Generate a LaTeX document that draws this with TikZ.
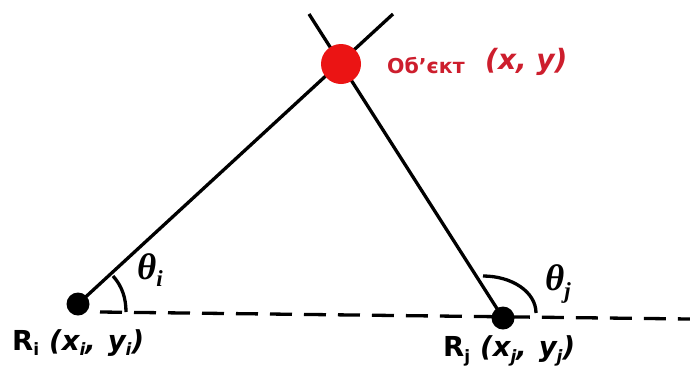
\documentclass[tikz,border=0pt]{standalone}
\usepackage{fontspec}
\setmainfont{DejaVu Sans}
\newfontfamily\thetafont{Liberation Serif}
\usetikzlibrary{backgrounds}
\definecolor{objred}{RGB}{235,20,20}
\definecolor{txtred}{RGB}{205,30,45}
\newcommand{\mysub}[1]{\raisebox{-0.35ex}{\fontsize{17}{17}\selectfont #1}}
\newcommand{\thsub}[1]{\raisebox{-0.45ex}{\fontsize{23}{23}\selectfont #1}}
\begin{document}
\begin{tikzpicture}[x=1pt,y=-1pt,
  dot/.style={circle,fill=black,inner sep=0pt,minimum size=23pt},
  objdot/.style={circle,fill=objred,inner sep=0pt,minimum size=40pt},
  ray/.style={line width=3.3pt},
  base/.style={line width=3.3pt,dash pattern=on 22pt off 12pt},
  lbl/.style={inner sep=0pt,font=\bfseries\fontsize{27.5}{27.5}\selectfont},
  ang/.style={inner sep=0pt,font=\thetafont\bfseries\itshape\fontsize{37}{37}\selectfont}]
\useasboundingbox (0,0) rectangle (690,376);
\node[dot] (Ri) at (78,304) {};
\node[dot] (Rj) at (503,318) {};
\node[objdot] (obj) at (341,64) {};
\coordinate (topA) at (393,14);
\coordinate (topB) at (309,14);
\coordinate (dashL) at (100,312);
\coordinate (dashR) at (690,319);
\coordinate (arcIa) at (113,276);
\coordinate (arcIb) at (126,312);
\coordinate (arcJa) at (483,276);
\coordinate (arcJb) at (536,313);
\begin{scope}[on background layer]
\draw[ray] (Ri.center) -- (topA);
\draw[ray] (Rj.center) -- (topB);
\draw[base] (dashL) -- (dashR);
\draw[ray] (arcIa) .. controls (122,286) and (126,298) .. (arcIb);
\draw[ray] (arcJa) .. controls (512,276) and (536,292) .. (arcJb);
\end{scope}
\node[lbl,text=txtred,font=\bfseries\fontsize{20.5}{20.5}\selectfont,anchor=west] (objname) at (387,66) {Об'єкт};
\node[lbl,text=txtred,font=\bfseries\itshape\fontsize{28}{28}\selectfont,anchor=west] (objxy) at (485,62) {(x, y)};
\node[ang] (ti) at (150,270) {θ\thsub{i}};
\node[ang] (tj) at (558,284) {θ\thsub{j}};
\node[lbl,anchor=west] (li) at (12,343) {R\mysub{i}\hspace{10pt}\textit{(x\mysub{i},\hspace{12pt}y\mysub{i})}};
\node[lbl,anchor=west] (lj) at (443,351) {R\mysub{j}\hspace{10pt}\textit{(x\mysub{j},\hspace{12pt}y\mysub{j})}};
\end{tikzpicture}
\end{document}
